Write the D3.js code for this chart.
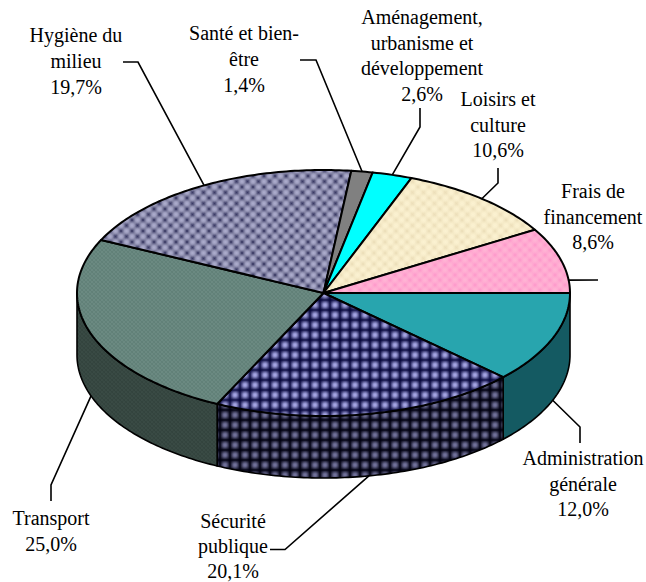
<!DOCTYPE html>
<html>
<head>
<meta charset="utf-8">
<script src="https://cdn.jsdelivr.net/npm/d3@7"></script>
<style>
    html, body { margin: 0; padding: 0; background: #fff; overflow: hidden; }
    text { font-family: "Liberation Serif", serif; font-size: 20px; fill: #000; }
</style>
</head>
<body>
<svg id="chart" width="646" height="582"></svg>
<script>
const categories = ["Administration générale", "Sécurité publique", "Transport", "Hygiène du milieu",
    "Santé et bien-être", "Aménagement, urbanisme et développement", "Loisirs et culture", "Frais de financement"]
const values = [12.0, 20.1, 25.0, 19.7, 1.4, 2.6, 10.6, 8.6]
const labelLines = [
    ["Administration", "générale"],
    ["Sécurité", "publique"],
    ["Transport"],
    ["Hygiène du", "milieu"],
    ["Santé et bien-", "être"],
    ["Aménagement,", "urbanisme et", "développement"],
    ["Loisirs et", "culture"],
    ["Frais de", "financement"]
]

const cx = 323.5, cy = 293, rx = 246.5, ry = 123, depth = 62

// label block: centre x, first baseline, leader knee + end. side = leader starts on the lower rim
const labelLayout = [
    {x: 583, y: 465, step: 25.5, knee: [580, 427], end: [580, 443], side: true},
    {x: 233, y: 528, step: 25, knee: [285, 549.5], end: [270, 549.5], side: true},
    {x: 51, y: 525, step: 26, knee: [51, 485], end: [51, 501], side: true},
    {x: 76, y: 42, step: 26, knee: [138, 62], end: [123, 62]},
    {x: 244, y: 40, step: 26, knee: [316, 60], end: [300, 60]},
    {x: 422, y: 24, step: 25.5, knee: [420, 127], end: [420, 108]},
    {x: 498, y: 106, step: 25.5, knee: [498, 183], end: [498, 168]},
    {x: 593, y: 198, step: 25.5, knee: [598, 280], end: [598, 280], angle: 2 * Math.PI - 0.105}
]

const svg = d3.select("#chart")
const defs = svg.append("defs")

const xScale = d3.scaleLinear().domain([-1, 1]).range([cx - rx, cx + rx])
const yScale = d3.scaleLinear().domain([-1, 1]).range([cy - ry, cy + ry])
const fr = d3.formatLocale({decimal: ",", thousands: " ", grouping: [3], currency: ["", " €"]})
const pct = fr.format(".1f")

// clockwise from 3 o'clock, same order as the legend of the original
const slices = d3.pie().sort(null).startAngle(0).endAngle(2 * Math.PI)(values)

function rimPoint(a, dy = 0) {
    return [xScale(Math.cos(a)), yScale(Math.sin(a)) + dy]
}

function arcPoints(a0, a1, dy = 0) {
    const n = Math.max(2, Math.ceil(Math.abs(a1 - a0) * 60))
    return d3.range(n + 1).map(i => rimPoint(a0 + (a1 - a0) * i / n, dy))
}

const line = d3.line()

function plaid(id, bg, dark, size, edge) {
    const gx = defs.append("linearGradient").attr("id", id + "-gx")
    const gy = defs.append("linearGradient").attr("id", id + "-gy").attr("x2", 0).attr("y2", 1)
    ;[gx, gy].forEach(g => {
        [[0, edge], [0.2, edge * 0.45], [0.4, 0.05], [0.6, 0.05], [0.8, edge * 0.45], [1, edge]].forEach(s => {
            g.append("stop").attr("offset", s[0]).attr("stop-color", dark).attr("stop-opacity", s[1])
        })
    })
    const p = defs.append("pattern").attr("id", id).attr("patternUnits", "userSpaceOnUse")
        .attr("width", size).attr("height", size)
    p.append("rect").attr("width", size).attr("height", size).attr("fill", bg)
    p.append("rect").attr("width", size).attr("height", size).attr("fill", `url(#${id}-gx)`)
    p.append("rect").attr("width", size).attr("height", size).attr("fill", `url(#${id}-gy)`)
}

function dots(id, bg, dark, light, size, r) {
    const mk = (name, color) => {
        const g = defs.append("radialGradient").attr("id", id + name)
        g.append("stop").attr("offset", 0).attr("stop-color", color).attr("stop-opacity", 1)
        g.append("stop").attr("offset", 0.45).attr("stop-color", color).attr("stop-opacity", 0.7)
        g.append("stop").attr("offset", 1).attr("stop-color", color).attr("stop-opacity", 0)
    }
    mk("-d", dark)
    mk("-l", light)
    const p = defs.append("pattern").attr("id", id).attr("patternUnits", "userSpaceOnUse")
        .attr("width", size).attr("height", size)
    p.append("rect").attr("width", size).attr("height", size).attr("fill", bg)
    const h = size / 2
    ;[[0, 0], [size, 0], [0, size], [size, size], [h, h]].forEach(c => {
        p.append("circle").attr("cx", c[0]).attr("cy", c[1]).attr("r", r).attr("fill", `url(#${id}-d)`)
    })
    ;[[h, 0], [h, size], [0, h], [size, h]].forEach(c => {
        p.append("circle").attr("cx", c[0]).attr("cy", c[1]).attr("r", r).attr("fill", `url(#${id}-l)`)
    })
}

plaid("secu", "#b4b4f4", "#05053a", 10, 0.95)
plaid("secu-side", "#7c7ca8", "#000010", 10, 1)
dots("hyg", "#86869f", "#3c3c66", "#adadce", 11, 5)
dots("trans", "#62827a", "#56776e", "#6f8d85", 4, 2)
dots("trans-side", "#35453f", "#2c3c37", "#3c4d47", 4, 2)
dots("lois", "#f6e9c4", "#ecdfba", "#fbf2d2", 11, 5)
dots("frais", "#ff9fd0", "#ff94ca", "#ffb6d4", 10, 5)

const topFill = ["#28a5ae", "url(#secu)", "url(#trans)", "url(#hyg)", "#808080", "#00ffff", "url(#lois)", "url(#frais)"]
const sideFill = ["#145a62", "url(#secu-side)", "url(#trans-side)"]

const sides = svg.append("g")
slices.forEach((s, i) => {
    if (s.startAngle >= Math.PI) return
    const a1 = Math.min(s.endAngle, Math.PI)
    const pts = arcPoints(s.startAngle, a1).concat(arcPoints(a1, s.startAngle, depth))
    sides.append("path")
        .attr("d", line(pts) + "Z")
        .attr("fill", sideFill[i])
        .attr("stroke", "#000")
        .attr("stroke-width", 1.6)
        .attr("stroke-linejoin", "round")
})

svg.append("g").selectAll("path")
    .data(slices)
    .join("path")
    .attr("d", s => line([[cx, cy]].concat(arcPoints(s.startAngle, s.endAngle))) + "Z")
    .attr("fill", (s, i) => topFill[i])
    .attr("stroke", "#000")
    .attr("stroke-width", 2)
    .attr("stroke-linejoin", "round")

// leaders
slices.forEach((s, i) => {
    const l = labelLayout[i]
    const a = l.angle ?? (s.startAngle + s.endAngle) / 2
    const start = rimPoint(a, l.side ? depth : 0)
    svg.append("path")
        .attr("d", line([start, l.knee, l.end]))
        .attr("fill", "none")
        .attr("stroke", "#000")
        .attr("stroke-width", 1.6)
})

// labels
const labels = svg.append("g").attr("text-anchor", "middle")
categories.forEach((c, i) => {
    const l = labelLayout[i]
    labelLines[i].concat([pct(values[i]) + "%"]).forEach((t, j) => {
        labels.append("text").attr("x", l.x).attr("y", l.y + j * l.step).text(t)
    })
})
</script>
</body>
</html>
